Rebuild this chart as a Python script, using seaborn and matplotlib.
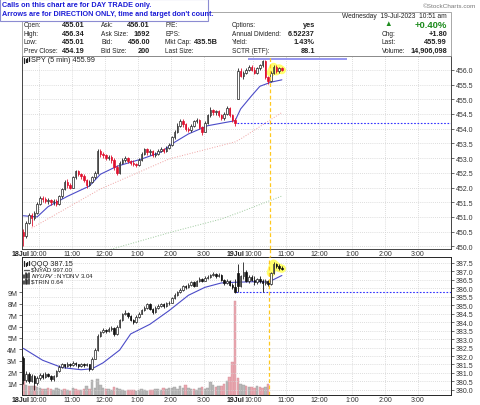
import numpy as np
import matplotlib
matplotlib.use('Agg')
import matplotlib.pyplot as plt
import seaborn as sns
from matplotlib.patches import Rectangle

W, H = 480, 406

# ---------------- data ----------------
HOUR_LABELS = ['10:00', '11:00', '12:00', '1:00', '2:00', '3:00']
DAY_LABELS = ['18Jul', '19Jul']
BARS_PER_DAY = 78

SPY_SESSION_OPEN = {0: 450.50, 78: 455.01}
SPY_CLOSE = [
    450.36, 450.80, 451.05, 450.95, 451.15, 451.45, 451.65, 451.60, 451.55, 451.58,
    451.52, 451.55, 451.45, 451.70, 451.95, 452.20, 452.10, 452.00, 452.35, 452.55,
    452.45, 452.40, 452.25, 452.10, 452.20, 452.35, 452.50, 453.25, 453.15, 453.10,
    453.00, 453.05, 452.95, 452.70, 452.50, 452.85, 452.95, 453.00, 452.90, 452.85,
    452.80, 452.75, 452.95, 453.15, 453.30, 453.20, 453.25, 453.10, 453.15, 453.25,
    453.30, 453.25, 453.35, 453.45, 453.70, 453.90, 454.10, 454.25, 454.15, 454.00,
    453.95, 454.10, 454.25, 454.30, 454.05, 453.90, 454.20, 454.45, 454.65, 454.55,
    454.60, 454.45, 454.35, 454.50, 454.70, 454.45, 454.30, 454.19,
    455.95, 455.80, 455.90, 456.00, 456.10, 456.00, 455.90, 456.05, 456.15, 456.30,
    455.75, 455.62, 455.90, 456.10, 455.95, 456.05, 455.99]
SPY_HIGH = [
    450.58, 450.85, 451.12, 451.15, 451.20, 451.50, 451.72, 451.70, 451.68, 451.65,
    451.62, 451.62, 451.60, 451.75, 452.00, 452.25, 452.30, 452.15, 452.40, 452.60,
    452.58, 452.50, 452.45, 452.30, 452.25, 452.40, 452.55, 453.32, 453.30, 453.20,
    453.15, 453.12, 453.10, 453.00, 452.75, 452.90, 453.00, 453.08, 453.05, 452.95,
    452.92, 452.85, 453.00, 453.20, 453.35, 453.35, 453.30, 453.28, 453.22, 453.30,
    453.38, 453.35, 453.40, 453.52, 453.75, 453.95, 454.18, 454.32, 454.33, 454.20,
    454.05, 454.15, 454.30, 454.35, 454.32, 454.10, 454.25, 454.50, 454.72, 454.68,
    454.65, 454.62, 454.50, 454.55, 454.78, 454.72, 454.50, 454.35,
    456.05, 456.05, 455.95, 456.05, 456.15, 456.15, 456.10, 456.10, 456.20, 456.34,
    456.32, 455.80, 455.95, 456.15, 456.15, 456.10, 456.08]
SPY_LOW = [
    450.02, 450.30, 450.75, 450.70, 450.90, 451.10, 451.40, 451.50, 451.48, 451.45,
    451.40, 451.42, 451.38, 451.42, 451.65, 451.90, 452.00, 451.95, 451.98, 452.30,
    452.40, 452.30, 452.18, 451.98, 452.05, 452.15, 452.30, 452.45, 453.05, 453.00,
    452.95, 452.92, 452.85, 452.60, 452.42, 452.45, 452.80, 452.88, 452.85, 452.78,
    452.72, 452.70, 452.72, 452.90, 453.10, 453.12, 453.10, 453.05, 453.05, 453.10,
    453.20, 453.18, 453.20, 453.30, 453.40, 453.65, 453.85, 454.05, 454.05, 453.92,
    453.88, 453.90, 454.05, 454.18, 453.98, 453.80, 453.88, 454.15, 454.40, 454.45,
    454.48, 454.38, 454.28, 454.30, 454.45, 454.40, 454.22, 454.10,
    455.01, 455.75, 455.70, 455.85, 455.95, 455.95, 455.85, 455.85, 456.00, 456.10,
    455.70, 455.52, 455.58, 455.85, 455.90, 455.88, 455.95]

# moving averages (bar index, value)
SPY_MA20_IDX = [0, 5, 9, 16, 24, 28, 34, 43, 50, 55, 60, 67, 74, 77, 79, 83, 86, 90, 94]
SPY_MA20 = [451.04, 451.00, 451.35, 451.70, 452.05, 452.45, 452.72, 452.97, 453.20, 453.54,
            453.82, 454.10, 454.22, 454.27, 454.67, 455.12, 455.44, 455.58, 455.66]
SPY_MA50_IDX = [3, 28, 53, 77, 79, 94]
SPY_MA50 = [450.62, 451.95, 452.97, 453.55, 453.65, 454.55]
SPY_MA200_IDX = [30, 54, 72, 79, 94]
SPY_MA200 = [449.85, 450.49, 450.93, 451.17, 451.71]
SPY_PREV_CLOSE = 454.19
SPY_RESISTANCE = 456.37
RESIST_FROM, RESIST_TO = 82, 118

QQQ_SESSION_OPEN = {0: 381.90, 78: 386.90}
QQQ_CLOSE = [
    380.60, 380.95, 380.55, 380.85, 380.40, 380.70, 380.90, 380.75, 380.95, 380.85,
    380.65, 380.80, 381.10, 381.35, 381.50, 381.40, 381.55, 381.45, 381.60, 381.50,
    381.40, 381.55, 381.45, 381.50, 381.25, 381.85, 382.35, 383.20, 383.40, 383.55,
    383.45, 383.60, 383.65, 383.30, 383.70, 384.10, 384.45, 384.55, 384.35, 384.15,
    384.00, 384.30, 384.50, 384.70, 384.85, 385.05, 384.80, 384.60, 384.85, 384.95,
    385.05, 384.95, 385.10, 385.15, 385.40, 385.60, 385.75, 385.90, 386.10, 386.05,
    386.20, 386.35, 386.15, 386.40, 386.55, 386.45, 386.60, 386.65, 386.75, 386.85,
    386.70, 386.80, 386.50, 386.30, 386.45, 386.20, 386.05, 385.80,
    386.10, 386.70, 386.95, 386.45, 386.65, 386.50, 386.35, 386.55, 386.40, 386.30,
    386.45, 386.25, 386.90, 387.45, 387.30, 387.20, 387.15]
QQQ_HIGH = [
    382.00, 381.10, 381.05, 380.95, 380.90, 380.80, 381.00, 381.00, 381.05, 381.00,
    380.90, 380.90, 381.20, 381.45, 381.60, 381.55, 381.65, 381.60, 381.70, 381.65,
    381.55, 381.60, 381.60, 381.60, 381.55, 381.95, 382.45, 383.30, 383.50, 383.65,
    383.60, 383.70, 383.75, 383.70, 383.80, 384.20, 384.55, 384.70, 384.60, 384.40,
    384.20, 384.40, 384.60, 384.80, 384.95, 385.15, 385.10, 384.85, 384.95, 385.05,
    385.15, 385.10, 385.20, 385.25, 385.50, 385.70, 385.85, 386.00, 386.20, 386.20,
    386.30, 386.45, 386.40, 386.50, 386.65, 386.60, 386.70, 386.75, 386.85, 386.95,
    386.90, 386.90, 386.85, 386.55, 386.55, 386.50, 386.30, 386.55,
    387.45, 386.80, 387.54, 387.05, 386.75, 386.80, 386.70, 386.60, 386.70, 386.55,
    386.55, 386.50, 386.95, 387.54, 387.50, 387.40, 387.30]
QQQ_LOW = [
    380.35, 380.45, 380.40, 380.45, 380.00, 380.30, 380.60, 380.65, 380.70, 380.75,
    380.55, 380.55, 380.75, 381.05, 381.30, 381.30, 381.35, 381.35, 381.40, 381.40,
    381.30, 381.35, 381.35, 381.40, 381.10, 381.20, 381.80, 382.30, 383.10, 383.35,
    383.35, 383.40, 383.50, 383.20, 383.25, 383.65, 384.05, 384.40, 384.25, 384.05,
    383.90, 383.95, 384.25, 384.45, 384.65, 384.80, 384.70, 384.50, 384.55, 384.80,
    384.90, 384.85, 384.90, 385.00, 385.10, 385.35, 385.55, 385.70, 385.85, 385.95,
    386.00, 386.15, 386.05, 386.10, 386.35, 386.35, 386.40, 386.55, 386.60, 386.70,
    386.60, 386.65, 386.40, 386.20, 386.25, 386.10, 385.95, 385.70,
    385.75, 386.05, 386.55, 386.35, 386.30, 386.40, 386.20, 386.25, 386.30, 385.76,
    386.20, 386.15, 386.20, 386.85, 387.20, 387.10, 387.10]
QQQ_MA_IDX = [0, 7, 14, 21, 25, 29, 35, 39, 46, 53, 60, 66, 72, 77, 85, 89, 94]
QQQ_MA = [382.45, 381.75, 381.32, 381.19, 381.25, 381.60, 382.35, 383.30, 383.87, 384.68,
          385.58, 386.05, 386.31, 386.35, 386.39, 386.35, 386.75]
QQQ_PREV_CLOSE = 385.78

# volume in millions, last bars not yet printed
VOLUME_M = [
    1.35, 0.90, 0.80, 0.75, 0.75, 0.70, 0.60, 0.55, 0.50, 0.60,
    0.55, 0.45, 0.60, 0.50, 0.45, 0.55, 0.40, 0.35, 0.60, 0.50,
    0.45, 0.40, 0.50, 0.80, 0.55, 1.30, 0.60, 1.40, 0.90, 0.60,
    0.50, 0.55, 0.45, 0.70, 0.60, 0.50, 0.40, 0.35, 0.45, 0.40,
    0.45, 0.35, 0.40, 0.50, 0.45, 0.35, 0.40, 0.45, 0.50, 0.55,
    0.45, 0.60, 0.55, 0.65, 0.60, 0.70, 0.50, 0.75, 0.60, 0.90,
    0.65, 0.55, 0.50, 0.45, 0.60, 0.70, 0.55, 0.60, 1.15, 0.90,
    0.70, 0.80, 0.75, 1.00, 1.20, 1.60, 2.90, 8.20,
    1.45, 1.00, 0.90, 0.75, 0.70, 0.70, 0.65, 0.75, 0.70, 0.65,
    0.70, 0.95, np.nan, np.nan, np.nan, np.nan, np.nan]

SIGNAL_BAR = 90           # 19 Jul 10:30
HIGHLIGHT_BARS = [90, 91, 92, 93, 94]

HEADER_ROWS = [
    ('Open:', '455.01', 'Ask:', '456.01', 'P/E:', '', 'Options:', 'yes'),
    ('High:', '456.34', 'Ask Size:', '1692', 'EPS:', '', 'Annual Dividend:', '6.52237'),
    ('Low:', '455.01', 'Bid:', '456.00', 'Mkt Cap:', '435.5B', 'Yield:', '1.43%'),
    ('Prev Close:', '454.19', 'Bid Size:', '200', 'Last Size:', '', 'SCTR (ETF):', '88.1'),
]
QUOTE_ROWS = [('Chg:', '+1.80'), ('Last:', '455.99'), ('Volume:', '14,906,098')]
QQQ_LEGEND = ['QQQ 387.15', '$NYAD 997.00', '$NYUPV:$NYDNV 3.04', '$TRIN 0.64']

GRID = dict(color='#d2d2d2', ls=(0, (1, 1.5)), lw=0.6)


def opens_from(closes, session_open):
    return [session_open[i] if i in session_open else closes[i - 1] for i in range(len(closes))]


def px_axes(fig, left, top, right, bottom):
    return fig.add_axes([left / W, 1 - bottom / H, (right - left) / W, (bottom - top) / H])


def draw_candles(ax, o, h, l, c, up_edge, down_face, down_edge, width=0.62):
    x = np.arange(len(c)) + 0.5
    o, h, l, c = map(np.asarray, (o, h, l, c))
    down = c < o
    ax.vlines(x[~down], l[~down], h[~down], color=up_edge, lw=0.6, zorder=3)
    ax.vlines(x[down], l[down], h[down], color=down_edge, lw=0.6, zorder=3)
    body_lo = np.minimum(o, c)
    body_h = np.maximum(np.abs(c - o), 0.012)
    ax.bar(x[~down], body_h[~down], bottom=body_lo[~down], width=width,
           facecolor='white', edgecolor=up_edge, lw=0.5, zorder=4)
    ax.bar(x[down], body_h[down], bottom=body_lo[down], width=width,
           facecolor=down_face, edgecolor=down_edge, lw=0.5, zorder=4)


def hour_axis(ax):
    ticks = [6, 18, 30, 42, 54, 66, 84, 96, 108, 120, 132, 144]
    ax.set_xticks(ticks)
    ax.set_xticklabels(HOUR_LABELS * 2)
    ax.set_xlim(0, 2 * BARS_PER_DAY)
    ax.tick_params(axis='x', length=0, pad=0.6)
    for pos, lab in zip([6, 84], DAY_LABELS):
        ax.annotate(lab, xy=(pos, 0), xycoords=('data', 'axes fraction'), xytext=(-8.5, -0.8),
                    textcoords='offset pixels', ha='right', va='top', fontsize=5,
                    fontweight='bold', color='#222222')
    ax.grid(axis='x', **GRID)


def fig_line(fig, xs, ys, **kw):
    fig.add_artist(plt.Line2D([v / W for v in xs], [1 - v / H for v in ys], **kw))


def candle_icon(fig, xp, yp):
    # tiny candlestick glyph in front of a series name
    for dx, top, bot in [(0, -2.5, 2.5), (1.6, -1.0, 2.0), (3.2, -2.0, 1.5), (4.8, -2.8, 1.0)]:
        fig_line(fig, [xp + dx, xp + dx], [yp + top, yp + bot], color='#222222', lw=0.9)


def bar_icon(fig, xp, yp):
    for dx, top in [(0, -0.5), (1.5, -2.5), (3.0, -1.5), (4.5, -3.0)]:
        fig_line(fig, [xp + dx, xp + dx], [yp + top, yp + 2.2], color='#222222', lw=1.1)


def main():
    sns.set_style('white')
    plt.rcParams['font.family'] = ['Liberation Sans', 'DejaVu Sans']
    plt.rcParams['axes.linewidth'] = 0.6
    fig = plt.figure(figsize=(W / 100, H / 100), dpi=100)

    spy_open = opens_from(SPY_CLOSE, SPY_SESSION_OPEN)
    qqq_open = opens_from(QQQ_CLOSE, QQQ_SESSION_OPEN)
    hl = np.array(HIGHLIGHT_BARS)

    # ---------- price panel (SPY) ----------
    ax = px_axes(fig, 22, 57, 451, 250)
    ax.set_ylim(449.91, 456.47)
    ax.set_yticks(np.arange(450.0, 456.01, 0.5))
    ax.yaxis.set_major_formatter(matplotlib.ticker.FormatStrFormatter('%.1f'))
    ax.yaxis.tick_right()
    ax.grid(axis='y', **GRID)
    ax.tick_params(labelsize=5, colors='#333333', width=0.5)
    ax.tick_params(axis='y', length=2, pad=1.5)
    hour_axis(ax)

    sns.lineplot(x=np.array(SPY_MA200_IDX) + 0.5, y=SPY_MA200, ax=ax, color='#9cc89c',
                 lw=0.7, ls=':', zorder=2)
    sns.lineplot(x=np.array(SPY_MA50_IDX) + 0.5, y=SPY_MA50, ax=ax, color='#efa3a3',
                 lw=0.7, ls=':', zorder=2)
    sns.lineplot(x=np.array(SPY_MA20_IDX) + 0.5, y=SPY_MA20, ax=ax, color='#4b4bc8',
                 lw=0.8, zorder=2)
    ax.plot(hl + 0.5, np.array(SPY_CLOSE)[hl], color='#ffff55', lw=6, alpha=0.85,
            solid_capstyle='round', zorder=2.5)
    draw_candles(ax, spy_open, SPY_HIGH, SPY_LOW, SPY_CLOSE, '#222222', '#e0102e', '#e0102e')
    ax.hlines(SPY_PREV_CLOSE, BARS_PER_DAY, 2 * BARS_PER_DAY, color='#3030ff', lw=0.8,
              ls=(0, (1.5, 1.5)), zorder=2)
    ax.hlines(SPY_RESISTANCE, RESIST_FROM, RESIST_TO, color='#8f8fef', lw=1.3, zorder=2)
    ax.axvline(SIGNAL_BAR, color='#ffc81e', lw=0.9, ls=(0, (3, 2)), zorder=5)
    ax.set_ylabel('')

    # ---------- lower panel (QQQ + volume) ----------
    axv = px_axes(fig, 22, 258, 451, 396)
    x = np.arange(len(VOLUME_M)) + 0.5
    vol = np.asarray(VOLUME_M)
    qdown = np.asarray(QQQ_CLOSE) < np.asarray(qqq_open)
    axv.bar(x[qdown], vol[qdown], width=0.85, color='#e9a8b0', edgecolor='#d88f98', lw=0.3)
    axv.bar(x[~qdown], vol[~qdown], width=0.85, color='#b9b9b9', edgecolor='#a0a0a0', lw=0.3)
    axv.set_ylim(0, 12.1)
    axv.set_yticks(range(1, 10))
    axv.set_yticklabels([f'{v}M' for v in range(1, 10)])
    axv.tick_params(labelsize=5, colors='#333333', width=0.5)
    axv.tick_params(axis='y', length=2, pad=1.5)
    hour_axis(axv)

    axq = axv.twinx()
    axq.set_ylim(379.70, 387.84)
    axq.set_yticks(np.arange(380.0, 387.51, 0.5))
    axq.yaxis.set_major_formatter(matplotlib.ticker.FormatStrFormatter('%.1f'))
    axq.grid(axis='y', **GRID)
    axq.tick_params(labelsize=5, length=2, pad=1.5, colors='#333333', width=0.5)
    sns.lineplot(x=np.array(QQQ_MA_IDX) + 0.5, y=QQQ_MA, ax=axq, color='#4b4bc8', lw=0.8,
                 zorder=2)
    axq.plot(hl + 0.5, np.array(QQQ_CLOSE)[hl], color='#ffff55', lw=6, alpha=0.85,
             solid_capstyle='round', zorder=2.5)
    draw_candles(axq, qqq_open, QQQ_HIGH, QQQ_LOW, QQQ_CLOSE, '#222222', '#111111', '#111111')
    axq.hlines(QQQ_PREV_CLOSE, BARS_PER_DAY, 2 * BARS_PER_DAY, color='#3030ff', lw=0.8,
               ls=(0, (1.5, 1.5)), zorder=2)
    axq.axvline(SIGNAL_BAR, color='#ffc81e', lw=0.9, ls=(0, (3, 2)), zorder=5)
    axq.set_ylabel('')
    axq.set_xlim(0, 2 * BARS_PER_DAY)
    fig_line(fig, [22 + 2.75 * SIGNAL_BAR] * 2, [250, 258], color='#ffc81e', lw=0.9,
             ls=(0, (3, 2)))

    # ---------- panel legends ----------
    def ftext(xp, yp, s, **kw):
        kw.setdefault('fontsize', 4.7)
        kw.setdefault('color', '#222222')
        fig.text(xp / W, 1 - yp / H, s, va='center', **kw)

    candle_icon(fig, 24, 61)
    ftext(31, 61, 'SPY (5 min) 455.99', fontsize=5.3)
    candle_icon(fig, 24, 264.5)
    ftext(31, 264.5, QQQ_LEGEND[0], fontsize=5.3)
    fig_line(fig, [24, 29], [270.5, 270.5], color='#555555', lw=0.9)
    ftext(31, 270.5, QQQ_LEGEND[1], fontsize=4.5)
    bar_icon(fig, 24, 276.5)
    ftext(31, 276.5, QQQ_LEGEND[2], fontsize=4.5)
    bar_icon(fig, 24, 282.5)
    ftext(31, 282.5, QQQ_LEGEND[3], fontsize=4.5)

    # ---------- header ----------
    fig.add_artist(Rectangle((22 / W, 1 - 57 / H), 429 / W, 44.5 / H, transform=fig.transFigure,
                             fill=False, edgecolor='#9a9a9a', lw=0.6))
    ftext(476, 6.5, '\u00a9StockCharts.com', ha='right', fontsize=4.6, color='#777777')
    ftext(447, 16, 'Wednesday  19-Jul-2023  10:51 am', ha='right', fontsize=4.8)
    col_x = [(24, 85), (101, 150), (165, 218), (232, 315)]
    for r, row in enumerate(HEADER_ROWS):
        yp = 25.5 + r * 8.7
        for k, (lx, vx) in enumerate(col_x):
            ftext(lx, yp, row[2 * k])
            ftext(vx, yp, row[2 * k + 1], ha='right', fontweight='bold', fontsize=5.3)
    ftext(388, 25, '\u25B2', ha='center', fontsize=5.5, color='#1e8c1e')
    ftext(447, 25, '+0.40%', ha='right', fontsize=6.8, fontweight='bold', color='#1e8c1e')
    for r, (lab, val) in enumerate(QUOTE_ROWS):
        yp = 34 + r * 8.7
        ftext(382, yp, lab)
        ftext(447, yp, val, ha='right', fontweight='bold', fontsize=5.3)

    fig.add_artist(Rectangle((0, 1 - 22 / H), 208 / W, 22 / H, transform=fig.transFigure,
                             facecolor='white', edgecolor='#8c8cd2', lw=0.8))
    ftext(2, 5.5, 'Calls on this chart are for DAY TRADE only.', fontsize=5.2,
          fontweight='bold', color='#1c1cd6')
    ftext(2, 14.5, "Arrows are for DIRECTION ONLY, time and target don't count.", fontsize=5.2,
          fontweight='bold', color='#1c1cd6')

    fig.savefig('out.png', dpi=100)


if __name__ == '__main__':
    main()
